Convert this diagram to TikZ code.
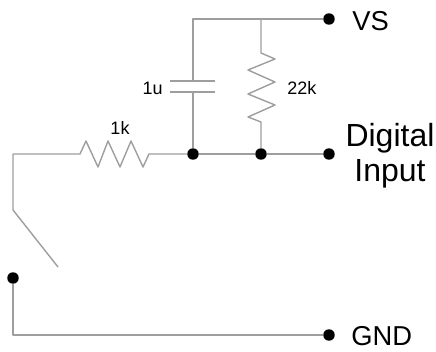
\documentclass[tikz,border=0pt]{standalone}
\usepackage{fontspec}
\setmainfont{Liberation Sans}
\definecolor{wirecol}{gray}{0.62}
\tikzset{
	wire/.style={draw=wirecol,line width=1.05pt,line join=round},
	dot/.style={circle,fill=black,inner sep=0pt,minimum size=8.6pt},
	biglabel/.style={font=\fontsize{20.5}{24}\selectfont,inner sep=0pt},
	smalllabel/.style={font=\fontsize{13.5}{16}\selectfont,inner sep=0pt},
}
\begin{document}
\begin{tikzpicture}[x=0.75pt,y=-0.75pt]
	\useasboundingbox (0,0) rectangle (436,352);
	\node[dot] (vs) at (329,19) {};
	\node[dot] (in) at (329,154) {};
	\node[dot] (gnd) at (329,335) {};
	\node[dot] (capdot) at (193,154) {};
	\node[dot] (resdot) at (261,154) {};
	\node[dot] (swdot) at (13,278) {};
	\coordinate (topleft) at (193,19);
	\coordinate (toptee) at (261,19);
	\coordinate (capup) at (193,81);
	\coordinate (capdown) at (193,92);
	\coordinate (corner) at (13,154);
	\coordinate (hinge) at (13,210);
	\coordinate (swtip) at (58,267);
	\coordinate (botleft) at (13,335);
	% top rail and bottom rail
	\draw[wire] (capup) -- (topleft) -- (vs);
	\draw[wire] (swdot) -- (botleft) -- (gnd);
	% capacitor
	\draw[wire] (170,81) -- (215,81);
	\draw[wire] (170,92) -- (215,92);
	\draw[wire] (capdown) -- (capdot);
	% 22k
	\draw[wire] (toptee) -- (261,53) -- (275,59) -- (248,70) -- (275,82) -- (248,94) -- (275,105) -- (248,117) -- (261,122) -- (resdot);
	% 1k and switch
	\draw[wire] (swtip) -- (hinge) -- (corner) -- (80,154) -- (86,141) -- (98,167) -- (108,141) -- (120,167) -- (131,141) -- (143,167) -- (149,154) -- (capdot);
	\draw[wire] (capdot) -- (resdot) -- (in);
	\node[biglabel,anchor=west] (vslabel) at (352,21) {VS};
	\node[biglabel,anchor=center,font=\fontsize{24}{26.5}\selectfont,align=center] (inlabel) at (390,156) {Digital\\Input};
	\node[biglabel,anchor=west] (gndlabel) at (351,336) {GND};
	\node[smalllabel,anchor=east] (caplabel) at (163,88) {1u};
	\node[smalllabel,anchor=west] (reslabel) at (287,88) {22k};
	\node[smalllabel] (serieslabel) at (120,128) {1k};
\end{tikzpicture}
\end{document}
